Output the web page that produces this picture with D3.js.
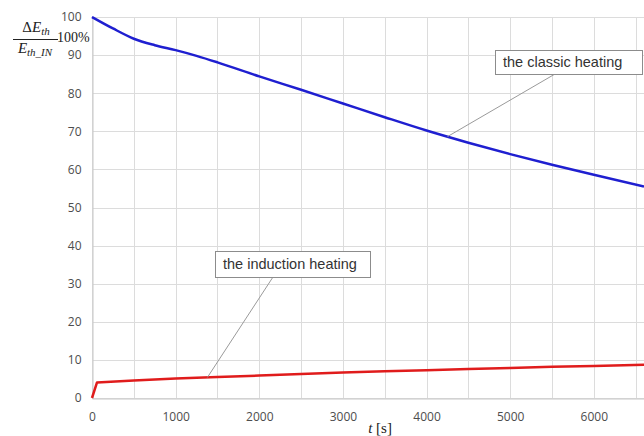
<!DOCTYPE html>
<html>
<head>
<meta charset="utf-8">
<script src="https://cdn.jsdelivr.net/npm/d3@7"></script>
<style>
  body { margin: 0; background: #fff; }
  svg { display: block; }
</style>
</head>
<body>
<div id="chart"></div>
<script>
// time [s] and relative energy change [%]
const classicT = [0, 250, 500, 750, 1000, 1250, 1500, 2000, 2500, 3000, 3500, 4000, 4500, 5000, 5500, 6000, 6600];
const classicV = [100, 97.0, 94.3, 92.6, 91.3, 89.8, 88.1, 84.4, 80.9, 77.3, 73.7, 70.2, 67.0, 64.0, 61.2, 58.6, 55.5];

const inductionT = [0, 60, 500, 1000, 1500, 2000, 2500, 3000, 3500, 4000, 4500, 5000, 5500, 6000, 6600];
const inductionV = [0, 4.1, 4.6, 5.1, 5.5, 5.9, 6.3, 6.7, 7.0, 7.3, 7.6, 7.9, 8.2, 8.4, 8.7];

const xTicks = [0, 1000, 2000, 3000, 4000, 5000, 6000];
const yTicks = [0, 10, 20, 30, 40, 50, 60, 70, 80, 90, 100];

const W = 644, H = 436;
const svg = d3.select('#chart').append('svg')
    .attr('width', W).attr('height', H);

const x = d3.scaleLinear().domain([0, 6600]).range([92, 644]);
const y = d3.scaleLinear().domain([0, 100]).range([398, 17]);

// grid
const grid = svg.append('g').attr('stroke', '#dcdcdc').attr('stroke-width', 1);
grid.selectAll('line.v')
    .data(d3.range(0, 6601, 500))
    .enter().append('line')
    .attr('x1', d => Math.round(x(d)) + 0.5).attr('x2', d => Math.round(x(d)) + 0.5)
    .attr('y1', y(100)).attr('y2', y(0));
grid.selectAll('line.h')
    .data(yTicks)
    .enter().append('line')
    .attr('x1', x(0)).attr('x2', W)
    .attr('y1', d => Math.round(y(d)) + 0.5).attr('y2', d => Math.round(y(d)) + 0.5);

// axes
const xAxis = svg.append('g')
    .attr('transform', `translate(0,${Math.round(y(0)) + 0.5})`)
    .call(d3.axisBottom(x).tickValues(xTicks).tickFormat(d3.format('d')).tickSize(0).tickPadding(14));
const yAxis = svg.append('g')
    .attr('transform', `translate(${Math.round(x(0)) + 0.5},0)`)
    .call(d3.axisLeft(y).tickValues(yTicks).tickSize(0).tickPadding(11));
[xAxis, yAxis].forEach(a => {
    a.select('.domain').attr('stroke', '#c8c8c8');
    a.selectAll('text')
        .attr('fill', '#4d4d4d')
        .style('font-family', '"Open Sans", "Liberation Sans", sans-serif')
        .style('font-size', '12px');
});

// series
const line = d3.line().curve(d3.curveMonotoneX).x(d => x(d[0])).y(d => y(d[1]));
svg.append('path')
    .datum(d3.zip(inductionT, inductionV))
    .attr('fill', 'none').attr('stroke', '#e01c1c').attr('stroke-width', 2.5)
    .attr('stroke-linejoin', 'round')
    .attr('d', d3.line().x(d => x(d[0])).y(d => y(d[1])));
svg.append('path')
    .datum(d3.zip(classicT, classicV))
    .attr('fill', 'none').attr('stroke', '#1f1fd0').attr('stroke-width', 2.5)
    .attr('stroke-linejoin', 'round')
    .attr('d', line);

// annotations: box, then leader from box bottom to a point on the curve
function callout(text, bx, by, bw, bh, px, tx, ty) {
    svg.append('line')
        .attr('x1', bx + px).attr('y1', by + bh)
        .attr('x2', x(tx)).attr('y2', y(ty))
        .attr('stroke', '#9a9a9a').attr('stroke-width', 1);
    svg.append('rect')
        .attr('x', bx + 0.5).attr('y', by + 0.5)
        .attr('width', bw).attr('height', bh)
        .attr('fill', '#fff').attr('stroke', '#8c8c8c');
    svg.append('text')
        .attr('x', bx + 8).attr('y', by + bh / 2 + 5)
        .attr('fill', '#333')
        .style('font-family', '"Liberation Sans", Arial, sans-serif')
        .style('font-size', '14.5px')
        .text(text);
}
callout('the classic heating', 495, 50, 147, 24, 60, 4250, 68.6);
callout('the induction heating', 215, 251, 155, 26, 58, 1380, 5.4);

// y label: fraction * 100%
const lab = svg.append('g')
    .style('font-family', '"Liberation Serif", "DejaVu Serif", serif')
    .attr('fill', '#222');
const num = lab.append('text').attr('x', 36).attr('y', 32).attr('text-anchor', 'middle').style('font-size', '15px');
num.append('tspan').text('Δ');
num.append('tspan').style('font-style', 'italic').text('E');
num.append('tspan').style('font-style', 'italic').style('font-size', '11px').attr('dy', 3).text('th');
lab.append('line').attr('x1', 13).attr('x2', 58).attr('y1', 39.5).attr('y2', 39.5)
    .attr('stroke', '#222').attr('stroke-width', 1);
const den = lab.append('text').attr('x', 35).attr('y', 53).attr('text-anchor', 'middle').style('font-size', '15px');
den.append('tspan').style('font-style', 'italic').text('E');
den.append('tspan').style('font-style', 'italic').style('font-size', '11px').attr('dy', 3).text('th_IN');
lab.append('text').attr('x', 57).attr('y', 42).style('font-size', '14px').text('100%');

// x label
const xl = svg.append('text').attr('x', 380).attr('y', 433).attr('text-anchor', 'middle')
    .style('font-family', '"Liberation Serif", "DejaVu Serif", serif')
    .style('font-size', '15px').attr('fill', '#222');
xl.append('tspan').style('font-style', 'italic').text('t');
xl.append('tspan').text(' [s]');
</script>
</body>
</html>
